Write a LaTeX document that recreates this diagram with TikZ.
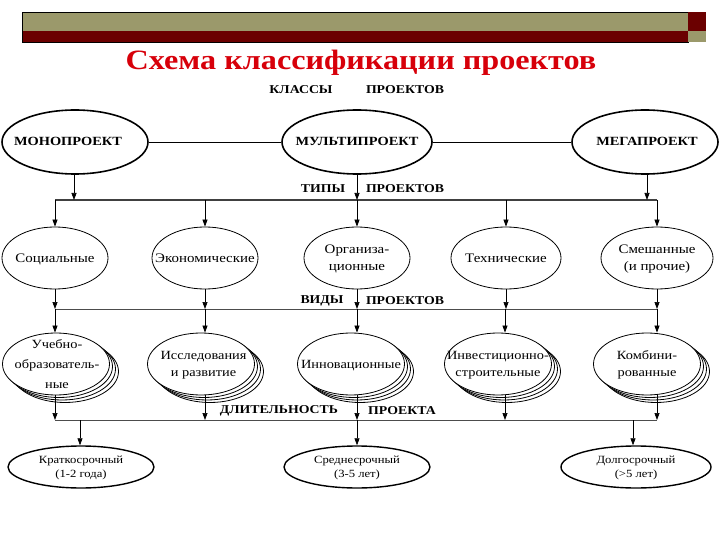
\documentclass[tikz,border=0pt]{standalone}
\usepackage{fontspec}
\setmainfont{Liberation Serif}
\newfontfamily\wfont[FakeStretch=1.15]{Liberation Serif}
\usetikzlibrary{shapes.geometric,arrows.meta,shadows}
\definecolor{olivebar}{RGB}{155,153,107}
\definecolor{maroonbar}{RGB}{107,0,0}
\definecolor{titlered}{RGB}{215,0,10}
\newcommand{\ctext}[2][0pt]{\makebox[0pt]{\hspace*{#1}\raisebox{-0.3em}[0pt][0pt]{\begin{tabular}{@{}c@{}}#2\end{tabular}}}}
\begin{document}
\begin{tikzpicture}[x=1pt,y=1pt,
  el/.style={ellipse,draw,inner sep=0pt},
  cls/.style={el,line width=1.6pt,minimum width=146pt,minimum height=64pt,font=\wfont\bfseries\fontsize{12.5}{14}\selectfont},
  typ/.style={el,line width=0.8pt,minimum width=106pt,minimum height=62pt,font=\wfont\fontsize{13}{17}\selectfont},
  kind/.style={el,line width=0.8pt,minimum width=107pt,minimum height=62pt,fill=white,
     font=\wfont\fontsize{12.5}{17}\selectfont,
     copy shadow={shadow xshift=9pt,shadow yshift=-7.5pt},
     copy shadow={shadow xshift=6pt,shadow yshift=-5pt},
     copy shadow={shadow xshift=3pt,shadow yshift=-2.5pt}},
  dur/.style={el,line width=1.4pt,minimum width=146pt,minimum height=42pt,font=\wfont\fontsize{11}{13.5}\selectfont},
  arr/.style={draw=black,line width=0.7pt,arrows={-Triangle[length=7pt,width=5pt,fill=black]}},
  lbl/.style={font=\wfont\bfseries\fontsize{12}{13}\selectfont,inner sep=0pt},
  bus/.style={line width=0.8pt,black!70},
  link/.style={line width=0.9pt}
]
\useasboundingbox (0,0) rectangle (720,-540);
% header bar
\fill[olivebar] (22,-12) rectangle (688,-31);
\fill[maroonbar] (22,-31) rectangle (688,-42);
\draw[line width=0.8pt] (22,-12) rectangle (688,-42);
\fill[maroonbar] (688,-12) rectangle (706,-31);
\fill[olivebar] (688,-31) rectangle (706,-42);
% title
\node[font=\wfont\bfseries\fontsize{28}{30}\selectfont,text=titlered] (title) at (361,-63) {Схема классификации проектов};
\node[lbl] (klassy) at (301,-90) {КЛАССЫ};
\node[lbl] (klassyp) at (405,-90) {ПРОЕКТОВ};
% row 1
\node[cls] (mono) at (75,-142) {\ctext[-14pt]{МОНОПРОЕКТ}};
\node[cls,minimum width=150pt] (multi) at (357,-142) {\ctext{МУЛЬТИПРОЕКТ}};
\node[cls] (mega) at (645,-142) {\ctext[4pt]{МЕГАПРОЕКТ}};
\draw[link] (mono) -- (multi);
\draw[link] (multi) -- (mega);
% bus 1
\coordinate (b1l) at (55,-200);
\coordinate (b1r) at (657,-200);
\coordinate (b1mono) at (74,-200);
\coordinate (b1multi) at (357,-200);
\coordinate (b1mega) at (647,-200);
\draw[line width=1.6pt,black!75] (b1l) -- (b1r);
\draw[arr] (b1mono |- mono.south) -- (b1mono);
\draw[arr] (multi.south) -- (b1multi);
\draw[arr] (b1mega |- mega.south) -- (b1mega);
\node[lbl] (tipy) at (323,-189) {ТИПЫ};
\node[lbl] (tipyp) at (405,-189) {ПРОЕКТОВ};
% row 2
\node[typ] (soc) at (55,-258) {\ctext{Социальные}};
\node[typ] (eco) at (205,-258) {\ctext{Экономические}};
\node[typ] (org) at (357,-258) {\ctext{Организа-\\ционные}};
\node[typ,minimum width=110pt] (tech) at (506,-258) {\ctext{Технические}};
\node[typ,minimum width=112pt] (mix) at (657,-258) {\ctext{Смешанные\\(и прочие)}};
\foreach \n/\x in {soc/55,eco/205,org/357,tech/506,mix/657}{
  \coordinate (t\n) at (\x,-200);
  \draw[arr] (t\n) -- (\n);
}
% bus 2
\coordinate (b2l) at (55,-309);
\coordinate (b2r) at (657,-309);
\draw[bus] (b2l) -- (b2r);
\foreach \n/\x in {soc/55,eco/205,org/357,tech/506,mix/657}{
  \coordinate (v\n) at (\x,-309);
  \draw[arr] (\n) -- (v\n);
}
\node[lbl] (vidy) at (322,-301) {ВИДЫ};
\node[lbl] (vidyp) at (405,-301) {ПРОЕКТОВ};
% row 3
\node[kind,font=\wfont\fontsize{12.5}{20}\selectfont] (uch) at (56,-364) {\ctext[2pt]{Учебно-\\образователь-\\ные}};
\node[kind] (iss) at (201,-364) {\ctext[5pt]{Исследования\\и развитие}};
\node[kind] (inn) at (351,-364) {\ctext{Инновационные}};
\node[kind] (inv) at (498,-364) {\ctext{Инвестиционно-\\строительные}};
\node[kind] (kom) at (647,-364) {\ctext{Комбини-\\рованные}};
\foreach \n/\x in {uch/55,iss/205,inn/357,inv/505,kom/657}{
  \coordinate (k\n) at (\x,-309);
  \draw[arr] (k\n) -- (k\n |- \n.north);
}
% bus 3
\coordinate (b3l) at (55,-420);
\coordinate (b3r) at (657,-420);
\draw[bus] (b3l) -- (b3r);
\foreach \n/\x in {uch/55,iss/205,inn/357,inv/505,kom/657}{
  \coordinate (d\n) at (\x,-420);
  \draw[arr] (d\n |- \n.south) -- (d\n);
}
\node[lbl] (dlit) at (279,-411) {ДЛИТЕЛЬНОСТЬ};
\node[lbl] (dlitp) at (402,-411) {ПРОЕКТА};
% row 4
\node[dur] (kr) at (81,-467) {\ctext{Краткосрочный\\(1-2 года)}};
\node[dur] (sr) at (357,-467) {\ctext{Среднесрочный\\(3-5 лет)}};
\node[dur,minimum width=150pt] (dl) at (636,-467) {\ctext{Долгосрочный\\(>5 лет)}};
\coordinate (skr) at (80,-420);
\coordinate (ssr) at (357,-420);
\coordinate (sdl) at (633,-420);
\draw[arr] (skr) -- (skr |- kr.north);
\draw[arr] (ssr) -- (sr);
\draw[arr] (sdl) -- (sdl |- dl.north);
\end{tikzpicture}
\end{document}
